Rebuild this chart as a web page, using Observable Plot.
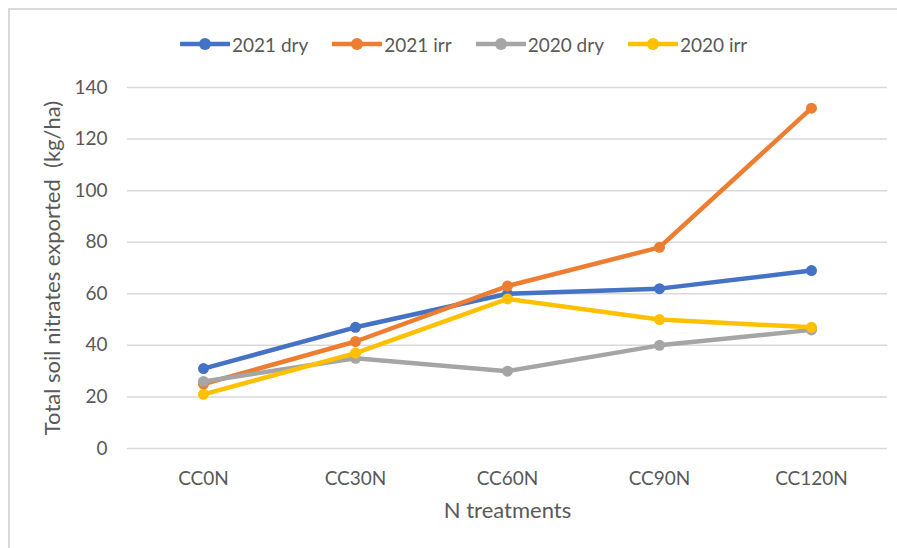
<!DOCTYPE html>
<html>
<head>
<meta charset="utf-8">
<script src="https://cdn.jsdelivr.net/npm/d3@7"></script>
<script src="https://cdn.jsdelivr.net/npm/@observablehq/plot@0.6"></script>
<style>
  html, body { margin: 0; padding: 0; background: #fff; }
  #chart {
    position: relative; width: 897px; height: 548px; overflow: hidden;
    font-family: Lato, "Open Sans", sans-serif; color: #595959;
  }
  #frame {
    position: absolute; left: 8px; top: 8px; width: 950px; height: 600px;
    border-left: 2px solid #d9d9d9; border-top: 2px solid #d9d9d9;
  }
  #legend {
    position: absolute; left: 180px; top: 32px; height: 24px;
    display: flex; align-items: center; font-size: 19px;
  }
  #legend .item { display: flex; align-items: center; margin-right: 24px; }
  #legend svg { display: block; margin-right: 2px; }
  #plot { position: absolute; left: 0; top: 60px; }
</style>
</head>
<body>
<div id="chart">
  <div id="frame"></div>
  <div id="legend"></div>
  <div id="plot"></div>
</div>
<script>
// Nitrogen treatments on the x axis
const categories = ["CC0N", "CC30N", "CC60N", "CC90N", "CC120N"];

// Total soil nitrates exported (kg/ha) per treatment
const dry2021 = [31, 47, 60, 62, 69];
const irr2021 = [25, 41.5, 63, 78, 132];
const dry2020 = [26, 35, 30, 40, 46];
const irr2020 = [21, 37, 58, 50, 47];

const seriesNames = ["2021 dry", "2021 irr", "2020 dry", "2020 irr"];
const seriesColors = ["#4472C4", "#ED7D31", "#A5A5A5", "#FFC000"];
const yTicks = [0, 20, 40, 60, 80, 100, 120, 140];

const seriesValues = [dry2021, irr2021, dry2020, irr2020];
const rows = seriesNames.flatMap((name, i) =>
  categories.map((c, j) => ({ series: name, treatment: c, value: seriesValues[i][j] }))
);

// One line + markers per series, drawn in order so later series sit on top
const seriesMarks = seriesNames.flatMap((name, i) => {
  const d = rows.filter(r => r.series === name);
  return [
    Plot.line(d, { x: "treatment", y: "value", stroke: seriesColors[i], strokeWidth: 4.5,
                   strokeLinejoin: "round", strokeLinecap: "round" }),
    Plot.dot(d, { x: "treatment", y: "value", fill: seriesColors[i], r: 5.5 })
  ];
});

const chart = Plot.plot({
  width: 897,
  height: 488,
  marginTop: 27,
  marginBottom: 100,
  marginLeft: 127,
  marginRight: 10,
  x: { type: "point", domain: categories, padding: 0.5 },
  y: { domain: [0, 140] },
  style: { fontFamily: "Lato, 'Open Sans', sans-serif", fontSize: "19px", color: "#595959",
           background: "transparent", overflow: "visible" },
  marks: [
    Plot.gridY(yTicks, { stroke: "#d9d9d9", strokeOpacity: 1, strokeWidth: 1.5 }),
    Plot.axisY(yTicks, { tickSize: 0, tickPadding: 20, label: null }),
    Plot.axisX({ tickSize: 0, tickPadding: 23, label: null }),
    ...seriesMarks,
    Plot.text(["Total soil nitrates exported  (kg/ha)"], {
      text: d => d, frameAnchor: "left", textAnchor: "middle", lineAnchor: "middle",
      dx: -75, rotate: -90, fontSize: 22
    }),
    Plot.text(["N treatments"], {
      text: d => d, frameAnchor: "bottom", lineAnchor: "middle", dy: 62, fontSize: 22
    })
  ]
});
document.getElementById("plot").appendChild(chart);

// Legend: line-and-marker swatch followed by the series name
const legend = d3.select("#legend");
seriesNames.forEach((name, i) => {
  const item = legend.append("div").attr("class", "item");
  const sw = item.append("svg").attr("width", 50).attr("height", 14);
  sw.append("line").attr("x1", 0).attr("x2", 50).attr("y1", 7).attr("y2", 7)
    .attr("stroke", seriesColors[i]).attr("stroke-width", 4.5);
  sw.append("circle").attr("cx", 25).attr("cy", 7).attr("r", 6).attr("fill", seriesColors[i]);
  item.append("span").text(name);
});
</script>
</body>
</html>
